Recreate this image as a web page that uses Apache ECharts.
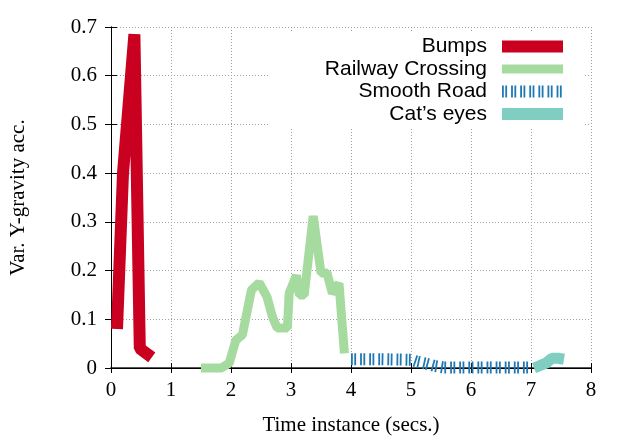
<!DOCTYPE html>
<html>
<head>
<meta charset="utf-8">
<script src="https://cdn.jsdelivr.net/npm/echarts@6/dist/echarts.min.js"></script>
<style>
  html, body { margin: 0; padding: 0; background: #fff; }
  #chart { width: 631px; height: 442px; }
</style>
</head>
<body>
<div id="chart"></div>
<script>
// values
var bumpsX = [0.1, 0.2, 0.39, 0.48, 0.68]
var bumpsY = [0.08, 0.40, 0.685, 0.04, 0.022]

var railX = [1.5, 1.84, 1.97, 2.08, 2.19, 2.34, 2.47, 2.6, 2.69, 2.77, 2.94, 2.97, 3.09, 3.14, 3.22, 3.37, 3.5, 3.6, 3.69, 3.8, 3.89]
var railY = [0.0, 0.0, 0.01, 0.057, 0.068, 0.16, 0.175, 0.146, 0.105, 0.082, 0.082, 0.154, 0.19, 0.15, 0.15, 0.312, 0.195, 0.195, 0.153, 0.174, 0.03]

var smoothX = [4.0, 4.5, 5.0, 5.1, 5.25, 5.4, 5.55, 6.0, 7.0]
var smoothY = [0.018, 0.018, 0.017, 0.013, 0.009, 0.004, 0.001, 0.001, 0.001]

var catX = [7.05, 7.25, 7.35, 7.45, 7.55]
var catY = [0.0, 0.01, 0.02, 0.02, 0.018]

var seriesNames = ['Bumps', 'Railway Crossing', 'Smooth Road', "Cat\u2019s eyes"]
var xTicks = [0, 8, 1]
var yTicks = [0, 0.7, 0.1]

function pairs (xs, ys) {
  return xs.map(function (x, i) { return [x, ys[i]] })
}

var serif = 'Liberation Serif'
var sans = 'Liberation Sans'
var smoothDash = [1.8, 1.5, 1.8, 4]

var chart = echarts.init(document.getElementById('chart'))

var gridLine = { show: true, lineStyle: { color: '#a0a0a0', width: 1, type: [1, 2] } }

var option = {
  animation: false,
  textStyle: { fontFamily: serif },
  grid: { left: 111, right: 40, top: 27, bottom: 74 },
  legend: {
    orient: 'vertical',
    align: 'right',
    right: 48,
    top: 32,
    padding: [4, 14, 4, 56],
    backgroundColor: '#fff',
    itemWidth: 61,
    itemHeight: 14,
    itemGap: 1.5,
    textStyle: { fontFamily: sans, fontSize: 21, color: '#000', padding: [0, 10, 0, 0] },
    data: [
      { name: seriesNames[0], itemStyle: { opacity: 0 }, lineStyle: { width: 12, type: 'solid' } },
      { name: seriesNames[1], itemStyle: { opacity: 0 }, lineStyle: { width: 9, type: 'solid' } },
      { name: seriesNames[2], itemStyle: { opacity: 0 }, lineStyle: { width: 12, type: smoothDash } },
      { name: seriesNames[3], itemStyle: { opacity: 0 }, lineStyle: { width: 12, type: 'solid' } }
    ]
  },
  xAxis: [
    {
      type: 'value',
      min: xTicks[0],
      max: xTicks[1],
      interval: xTicks[2],
      name: 'Time instance (secs.)',
      nameLocation: 'middle',
      nameGap: 47,
      nameTextStyle: { fontFamily: serif, fontSize: 21, color: '#000' },
      axisLine: { show: true, lineStyle: { color: '#555', width: 2 } },
      axisTick: { show: true, inside: true, length: 5, lineStyle: { color: '#000' } },
      axisLabel: { fontFamily: serif, fontSize: 21, color: '#000', margin: 12 },
      splitLine: gridLine
    },
    {
      type: 'value',
      position: 'top',
      min: xTicks[0],
      max: xTicks[1],
      interval: xTicks[2],
      axisLine: { show: true, lineStyle: { color: '#000', width: 1 } },
      axisTick: { show: true, inside: true, length: 5, lineStyle: { color: '#000' } },
      axisLabel: { show: false },
      splitLine: { show: false }
    }
  ],
  yAxis: [
    {
      type: 'value',
      min: yTicks[0],
      max: yTicks[1],
      interval: yTicks[2],
      name: 'Var. Y-gravity acc.',
      nameLocation: 'middle',
      nameGap: 82,
      nameTextStyle: { fontFamily: serif, fontSize: 21, color: '#000' },
      axisLine: { show: true, lineStyle: { color: '#000', width: 1 } },
      axisTick: { show: true, inside: true, length: 6, lineStyle: { color: '#000' } },
      axisLabel: { fontFamily: serif, fontSize: 21, color: '#000', margin: 14 },
      splitLine: gridLine
    },
    {
      type: 'value',
      position: 'right',
      min: yTicks[0],
      max: yTicks[1],
      interval: yTicks[2],
      axisLine: { show: true, lineStyle: { color: '#000', width: 1 } },
      axisTick: { show: true, inside: true, length: 6, lineStyle: { color: '#000' } },
      axisLabel: { show: false },
      splitLine: { show: false }
    }
  ],
  series: [
    {
      name: seriesNames[0],
      type: 'line',
      data: pairs(bumpsX, bumpsY),
      symbol: 'none',
      clip: false,
      color: '#ca0020',
      lineStyle: { width: 12, color: '#ca0020' }
    },
    {
      name: seriesNames[1],
      type: 'line',
      data: pairs(railX, railY),
      symbol: 'none',
      clip: false,
      color: '#a6dba0',
      lineStyle: { width: 9, color: '#a6dba0' }
    },
    {
      name: seriesNames[2],
      type: 'line',
      data: pairs(smoothX, smoothY),
      symbol: 'none',
      clip: false,
      color: '#1f78b4',
      lineStyle: { width: 12, color: '#1f78b4', type: smoothDash }
    },
    {
      name: seriesNames[3],
      type: 'line',
      data: pairs(catX, catY),
      symbol: 'none',
      clip: false,
      color: '#80cdc1',
      lineStyle: { width: 11, color: '#80cdc1' }
    }
  ]
}

chart.setOption(option)
</script>
</body>
</html>
